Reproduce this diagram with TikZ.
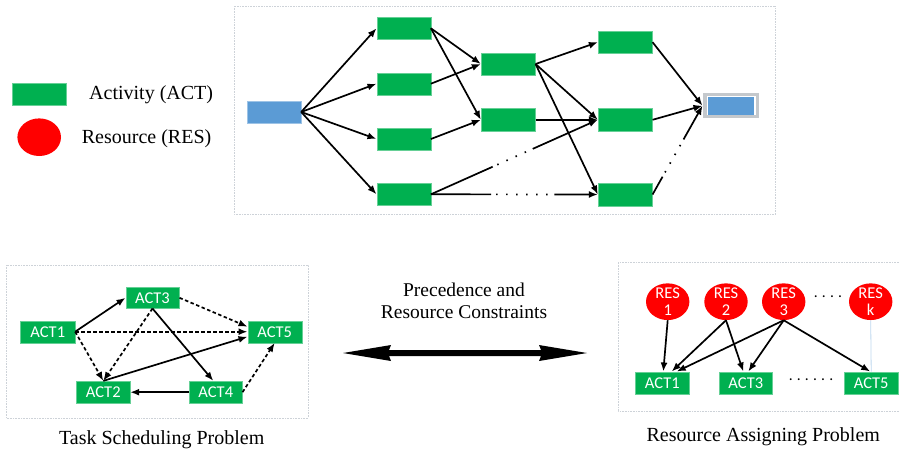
\documentclass[tikz,border=0pt]{standalone}
\usepackage{fontspec}
\setmainfont{Liberation Serif}
\newfontfamily\boxfont{Carlito}
\usetikzlibrary{arrows.meta,calc,shapes.geometric}
\definecolor{actgreen}{HTML}{00B050}
\definecolor{startblue}{HTML}{5B9BD5}
\definecolor{framegray}{HTML}{CDD2D8}
\definecolor{endgray}{HTML}{C4C8CC}
\definecolor{thinblue}{HTML}{BDD7EE}
\begin{document}
\begin{tikzpicture}[x=1pt,y=-1pt,
  act/.style={fill=actgreen, draw=actgreen!60!white, line width=0.4pt,
    minimum width=54pt, minimum height=22pt, inner sep=0pt, text=white,
    font=\boxfont\fontsize{16.5}{17}\selectfont},
  startbox/.style={fill=startblue, draw=startblue!60!white, line width=0.4pt,
    minimum width=54pt, minimum height=22pt, inner sep=0pt},
  res/.style={ellipse, fill=red, minimum width=43.4pt, minimum height=36.7pt, inner sep=0pt},
  restext/.style={text=white, align=center, inner sep=0pt,
    font=\boxfont\fontsize{16.5}{16.6}\selectfont},
  lbl/.style={inner sep=0pt, font=\fontsize{20}{24}\selectfont},
  arr/.style={line width=1.7pt, -{Latex[length=9pt,width=7pt]}},
  dsh/.style={arr, dash pattern=on 3.5pt off 2.5pt},
  solidseg/.style={line width=1.7pt},
  dotseg/.style={line width=1.7pt, dash pattern=on 1.5pt off 8.5pt, dash phase=5pt},
  frame/.style={draw=framegray, line width=0.6pt, densely dotted}
]
\useasboundingbox (0,0) rectangle (899,455);

% ---------- legend ----------
\node[act, minimum width=53.3pt] (lgact) at (39.3,94.3) {};
\node[lbl, anchor=west] (tact) at (89,94.3) {Activity (ACT)};
\node[res, minimum width=43.6pt, minimum height=37.6pt] (lgres) at (39.2,137.2) {};
\node[lbl, anchor=west] (tres) at (81.7,139) {Resource (RES)};

% ---------- top network ----------
\draw[frame] (234,6) rectangle (775.7,214);
\node[startbox] (s) at (274,112) {};
\node[act] (a1) at (403.7,28.3) {};
\node[act] (a2) at (403.7,83.7) {};
\node[act] (a3) at (403.7,139) {};
\node[act] (a4) at (403.7,194.3) {};
\node[act, minimum width=54.3pt, minimum height=22.5pt] (b1) at (508.2,64) {};
\node[act, minimum width=54.3pt, minimum height=22.5pt] (b2) at (508.2,119.8) {};
\node[act, minimum width=54.3pt, minimum height=22.5pt] (c1) at (625.2,42.2) {};
\node[act, minimum width=54.3pt, minimum height=22.5pt] (c2) at (625.2,119.8) {};
\node[act, minimum width=54.3pt, minimum height=22.5pt] (c3) at (625.2,194.5) {};
\node[fill=endgray, minimum width=56.6pt, minimum height=24.7pt, inner sep=0pt] (e) at (731,105.7) {};
\node[fill=white, minimum width=49pt, minimum height=19.5pt, inner sep=0pt] (einner) at (731,105.7) {};
\node[fill=startblue, minimum width=46.3pt, minimum height=18.3pt, inner sep=0pt] (eblue) at (731.2,105.8) {};

\foreach \t in {a1,a2,a3,a4} \draw[arr] (s.east) -- (\t.west);
\draw[arr] (a1.east) -- (b1.west);
\draw[arr] (a1.east) -- (b2.west);
\draw[arr] (a2.east) -- (b1.west);
\draw[arr] (a3.east) -- (b2.west);
\draw[arr] (b1.east) -- (c1.west);
\draw[arr] (b1.east) -- (c2.west);
\draw[arr] (b1.east) -- (c3.west);
\draw[arr] (b2.east) -- (c2.west);
\draw[arr] (c1.east) -- (e.west);
\draw[arr] (c2.east) -- (e.west);

\coordinate (p1) at ($(a4.east)!0.37!(c2.west)$);
\coordinate (p2) at ($(a4.east)!0.61!(c2.west)$);
\draw[solidseg] (a4.east) -- (p1);
\draw[dotseg] (p1) -- (p2);
\draw[arr] (p2) -- (c2.west);

\coordinate (p3) at ($(a4.east)!0.36!(c3.west)$);
\coordinate (p4) at ($(a4.east)!0.74!(c3.west)$);
\draw[solidseg] (a4.east) -- (p3);
\draw[dotseg] (p3) -- (p4);
\draw[arr] (p4) -- (c3.west);

\coordinate (p5) at ($(c3.east)!0.2!(e.west)$);
\coordinate (p6) at ($(c3.east)!0.62!(e.west)$);
\draw[solidseg] (c3.east) -- (p5);
\draw[dotseg] (p5) -- (p6);
\draw[arr] (p6) -- (e.west);

% ---------- middle ----------
\node[lbl, align=center, font=\fontsize{19.5}{21.7}\selectfont] (mid) at (464,300.8) {Precedence and\\Resource Constraints};
\fill (343,353) -- (391,345) -- (389,350) -- (541,350) -- (539,345) -- (587,353)
  -- (539,361) -- (541,356) -- (389,356) -- (391,361) -- cycle;

% ---------- task scheduling ----------
\draw[frame] (6,265) rectangle (308,418);
\node[act, minimum width=54.3pt] (l1) at (47.8,331.7) {ACT1};
\node[act, minimum width=53.6pt, minimum height=21pt] (l3) at (152.5,297.8) {ACT3};
\node[act, minimum width=53.3pt, minimum height=22.3pt] (l2) at (103.3,392.2) {ACT2};
\node[act, minimum width=53pt, minimum height=22.3pt] (l4) at (215.8,392.2) {ACT4};
\node[act, minimum width=54pt] (l5) at (274.7,331.7) {ACT5};

\draw[arr] (l1.east) -- (l3.west);
\draw[dsh] (l1.east) -- (l5.west);
\draw[dsh] (l1.east) -- (l2.north);
\draw[dsh] (l3.south) -- (l2.north);
\draw[dsh] (l3.east) -- ([yshift=5pt]l5.west);
\draw[arr] (l3.south) -- ([xshift=-2.5pt]l4.north);
\draw[arr] (l2.north) -- ([yshift=-5pt]l5.west);
\draw[arr] (l4.west) -- (l2.east);
\draw[dsh] (l4.east) -- (l5.south);

\node[lbl] (ttask) at (161.7,440) {Task Scheduling Problem};

% ---------- resource assigning ----------
\draw[frame] (899,262) -- (618.3,262) -- (618.3,411.7) -- (899,411.7);
\node[res, label={[restext]center:{RES\\1}}] (r1) at (667.7,301.7) {};
\node[res, label={[restext]center:{RES\\2}}] (r2) at (726,301.7) {};
\node[res, label={[restext]center:{RES\\3}}] (r3) at (783.7,301.7) {};
\node[res, label={[restext]center:{RES\\k}}] (rk) at (870.7,301.7) {};
\node[inner sep=0pt, font=\boxfont\fontsize{15.5}{16}\selectfont] (rdots) at (828,297) {.\hspace{4.2pt}.\hspace{4.2pt}.\hspace{4.2pt}.};

\node[act, minimum width=53.5pt, minimum height=22.6pt] (q1) at (662.3,383) {ACT1};
\node[act, minimum width=53.5pt, minimum height=22.6pt] (q3) at (745.8,383) {ACT3};
\node[act, minimum width=53.5pt, minimum height=22.6pt] (q5) at (871.2,383) {ACT5};
\node[inner sep=0pt, font=\boxfont\fontsize{15.5}{16}\selectfont] (qdots) at (811,380) {.\hspace{4.2pt}.\hspace{4.2pt}.\hspace{4.2pt}.\hspace{4.2pt}.\hspace{4.2pt}.};

\draw[thinblue, line width=0.8pt] (rk.south) -- (q5.north);
\draw[arr] (r1.south) -- ([xshift=1pt]q1.north);
\draw[arr] (r2.south) -- ([xshift=9.4pt]q1.north);
\draw[arr] (r2.south) -- ([xshift=-2.5pt]q3.north);
\draw[arr] (r3.south) -- ([xshift=14.4pt]q1.north);
\draw[arr] (r3.south) -- ([xshift=2.5pt]q3.north);
\draw[arr] (r3.south) -- ([xshift=-1pt]q5.north);

\node[lbl] (tres2) at (763.3,436.7) {Resource Assigning Problem};
\end{tikzpicture}
\end{document}
